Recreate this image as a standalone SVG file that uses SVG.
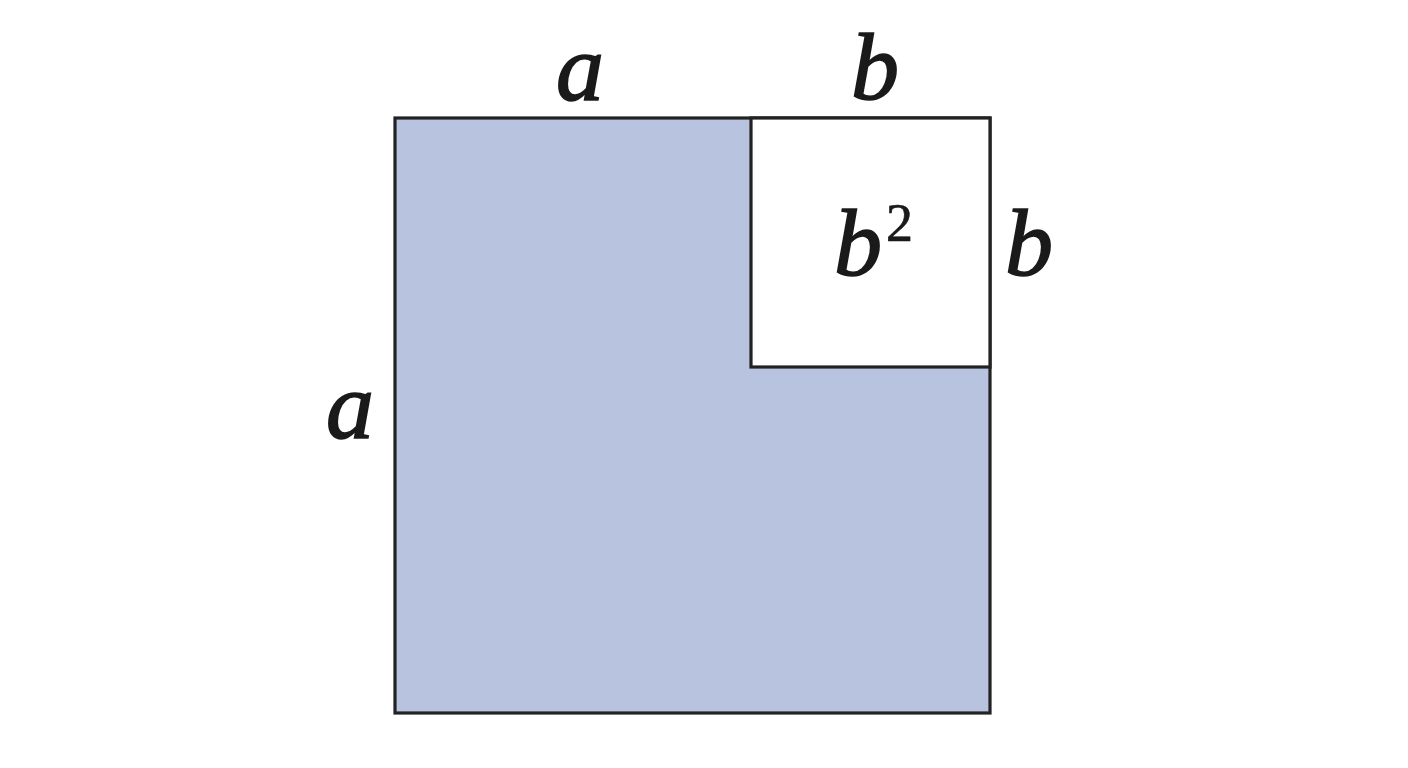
<svg xmlns="http://www.w3.org/2000/svg" width="1408" height="768" viewBox="0 0 1408 768">
<style>
.lbl{font-family:"Liberation Serif","Times New Roman",serif;font-style:italic;font-size:96px;fill:#1a1a1a;stroke:#1a1a1a;stroke-width:1.6}
.sup{font-family:"Liberation Serif","Times New Roman",serif;font-size:54px;fill:#1a1a1a;stroke:#1a1a1a;stroke-width:0.7}
.edge{stroke:#222;stroke-width:3.2;}
</style>
<rect width="1408" height="768" fill="#ffffff"/>
<g id="outer-square">
<rect x="395" y="118" width="595" height="595" fill="#b8c3e0" class="edge"/>
</g>
<g id="inner-square">
<rect x="751" y="118" width="239" height="249" fill="#ffffff" class="edge"/>
<text class="lbl" x="834" y="275">b</text>
<text class="sup" x="886" y="241">2</text>
</g>
<g id="labels">
<text class="lbl" x="580" y="100" text-anchor="middle">a</text>
<text class="lbl" x="875" y="99" text-anchor="middle">b</text>
<text class="lbl" x="1029" y="275" text-anchor="middle">b</text>
<text class="lbl" x="350" y="438" text-anchor="middle">a</text>
</g>
</svg>
